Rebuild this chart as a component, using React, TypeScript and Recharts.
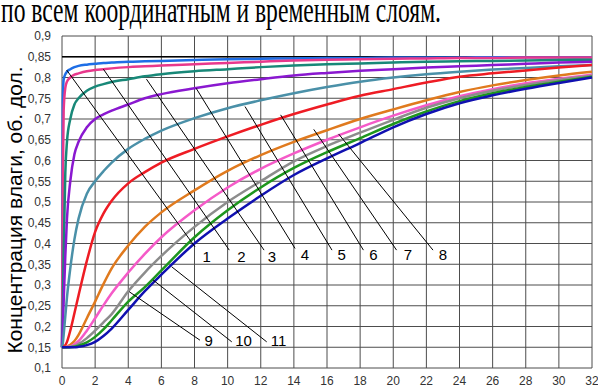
import React from 'react';
import { LineChart, Line, XAxis, YAxis, CartesianGrid, ReferenceLine, ReferenceDot } from 'recharts';

const XS = [0, 0.05, 0.1, 0.2, 0.3, 0.5, 0.75, 1, 1.5, 2, 2.5, 3, 4, 5, 6, 8, 10, 12, 14, 16, 18, 20, 22, 24, 26, 28, 30, 32];

const S1 = [0.15, 0.74, 0.795, 0.808, 0.814, 0.82, 0.825, 0.828, 0.831, 0.833, 0.835, 0.836, 0.838, 0.839, 0.84, 0.842, 0.844, 0.845, 0.846, 0.847, 0.847, 0.848, 0.848, 0.848, 0.849, 0.849, 0.849, 0.849];
const S2 = [0.15, 0.55, 0.72, 0.775, 0.79, 0.8, 0.807, 0.81, 0.815, 0.818, 0.82, 0.822, 0.825, 0.827, 0.829, 0.832, 0.835, 0.838, 0.841, 0.843, 0.844, 0.845, 0.846, 0.847, 0.847, 0.848, 0.848, 0.848];
const S3 = [0.15, 0.25, 0.38, 0.57, 0.645, 0.7, 0.735, 0.75, 0.768, 0.778, 0.784, 0.789, 0.796, 0.803, 0.808, 0.815, 0.82, 0.825, 0.829, 0.832, 0.834, 0.836, 0.838, 0.839, 0.84, 0.841, 0.842, 0.843];
const S4 = [0.15, 0.2, 0.26, 0.37, 0.46, 0.55, 0.615, 0.645, 0.68, 0.7, 0.711, 0.72, 0.735, 0.75, 0.76, 0.774, 0.786, 0.796, 0.805, 0.811, 0.816, 0.82, 0.824, 0.827, 0.83, 0.833, 0.836, 0.838];
const S5 = [0.15, 0.16, 0.18, 0.225, 0.27, 0.34, 0.41, 0.46, 0.52, 0.55, 0.574, 0.595, 0.628, 0.652, 0.672, 0.702, 0.726, 0.745, 0.762, 0.777, 0.79, 0.8, 0.808, 0.814, 0.819, 0.823, 0.827, 0.83];
const S6 = [0.15, 0.15, 0.151, 0.155, 0.163, 0.19, 0.232, 0.275, 0.358, 0.428, 0.472, 0.503, 0.545, 0.572, 0.595, 0.628, 0.658, 0.686, 0.712, 0.735, 0.756, 0.772, 0.788, 0.802, 0.81, 0.817, 0.824, 0.83];
const S7 = [0.15, 0.15, 0.15, 0.151, 0.152, 0.156, 0.165, 0.18, 0.22, 0.26, 0.302, 0.34, 0.395, 0.44, 0.475, 0.528, 0.575, 0.613, 0.645, 0.673, 0.7, 0.723, 0.745, 0.765, 0.781, 0.794, 0.805, 0.814];
const S8 = [0.15, 0.15, 0.15, 0.15, 0.151, 0.152, 0.157, 0.165, 0.19, 0.22, 0.251, 0.28, 0.33, 0.375, 0.415, 0.48, 0.535, 0.58, 0.617, 0.65, 0.68, 0.708, 0.733, 0.755, 0.772, 0.786, 0.797, 0.807];
const S9 = [0.15, 0.15, 0.15, 0.15, 0.15, 0.151, 0.153, 0.158, 0.172, 0.19, 0.21, 0.23, 0.285, 0.33, 0.37, 0.44, 0.5, 0.55, 0.598, 0.635, 0.667, 0.698, 0.727, 0.75, 0.768, 0.782, 0.794, 0.804];
const S10 = [0.15, 0.15, 0.15, 0.15, 0.15, 0.15, 0.151, 0.154, 0.162, 0.175, 0.193, 0.215, 0.26, 0.295, 0.335, 0.415, 0.48, 0.535, 0.582, 0.62, 0.654, 0.688, 0.718, 0.743, 0.762, 0.777, 0.79, 0.802];
const S11 = [0.15, 0.15, 0.15, 0.15, 0.15, 0.15, 0.15, 0.151, 0.155, 0.163, 0.177, 0.195, 0.24, 0.285, 0.325, 0.4, 0.46, 0.515, 0.565, 0.605, 0.642, 0.68, 0.712, 0.738, 0.757, 0.773, 0.787, 0.8];

const SERIES = [S1, S2, S3, S4, S5, S6, S7, S8, S9, S10, S11];
const COLORS = ['#1e6ee6', '#e8388c', '#188878', '#8a18d0', '#4a90a8', '#ee1c24', '#e07a1e', '#f55ac8', '#8c8c8c', '#1e961e', '#1010b0'];

const X_TICKS = [0, 2, 4, 6, 8, 10, 12, 14, 16, 18, 20, 22, 24, 26, 28, 30, 32];
const Y_TICKS = [0.1, 0.15, 0.2, 0.25, 0.3, 0.35, 0.4, 0.45, 0.5, 0.55, 0.6, 0.65, 0.7, 0.75, 0.8, 0.85, 0.9];

// leader lines: start (on curve) -> end (near label)
const LEADER_LABELS = ['1', '2', '3', '4', '5', '6', '7', '8', '9', '10', '11'];
const LEADER_START_X = [0.28, 2.5, 5.1, 8.1, 11.05, 13.2, 15.2, 16.7, 4.05, 5.5, 6.62];
const LEADER_START_Y = [0.818, 0.82, 0.796, 0.774, 0.73, 0.71, 0.675, 0.664, 0.284, 0.312, 0.344];
const LEADER_END_X = [8.03, 10.1, 12.2, 14.07, 16.3, 18.2, 20.2, 22.4, 8.33, 10.25, 12.36];
const LEADER_END_Y = [0.392, 0.384, 0.384, 0.388, 0.384, 0.384, 0.384, 0.384, 0.167, 0.163, 0.163];
const LABEL_X = [8.73, 10.84, 12.68, 14.67, 16.88, 18.81, 20.89, 23.0, 8.85, 10.96, 13.07];
const LABEL_Y = [0.368, 0.368, 0.368, 0.373, 0.373, 0.373, 0.373, 0.373, 0.166, 0.166, 0.166];

const TITLE = 'по всем координатным и временным слоям.';
const Y_LABEL = 'Концентрация влаги, об. дол.';

const data = XS.map((x, i) => {
  const row: Record<string, number> = { x };
  SERIES.forEach((s, k) => {
    row['s' + (k + 1)] = s[i];
  });
  return row;
});

const fmt = (v: number) => String(Math.round(v * 100) / 100).replace('.', ',');
const SANS = '"Liberation Sans", Arial, sans-serif';
const SERIF = "'Liberation Serif', Tinos, 'DejaVu Serif', 'Noto Serif', FreeSerif, 'Times New Roman', Times, serif";

export default function App() {
  return (
    <div style={{ position: 'absolute', left: 0, top: 0, width: 598, height: 389, overflow: 'hidden', background: '#fff' }}>
      <div style={{ position: 'absolute', left: 0, top: 0 }}>
        <LineChart width={598} height={389} data={data} margin={{ top: 36, right: 6, bottom: 0, left: 0 }}>
          <CartesianGrid stroke="#4d4d4d" strokeWidth={1} horizontalValues={Y_TICKS} verticalValues={X_TICKS} />
          <XAxis
            dataKey="x"
            type="number"
            domain={[0, 32]}
            ticks={X_TICKS}
            height={21}
            axisLine={false}
            tickLine={false}
            tickSize={0}
            tickMargin={8}
            interval={0}
            tick={{ fill: '#333', fontSize: 12, fontFamily: SANS }}
          />
          <YAxis
            type="number"
            domain={[0.1, 0.9]}
            ticks={Y_TICKS}
            width={62}
            axisLine={false}
            tickLine={false}
            tickSize={0}
            tickMargin={11}
            interval={0}
            tickFormatter={fmt}
            tick={{ fill: '#333', fontSize: 12, fontFamily: SANS }}
          />
          <ReferenceLine y={0.85} stroke="#000" strokeWidth={1.4} />
          {SERIES.map((_, k) => (
            <Line
              key={k}
              dataKey={'s' + (k + 1)}
              type="monotone"
              stroke={COLORS[k]}
              strokeWidth={2.5}
              dot={false}
              activeDot={false}
              isAnimationActive={false}
            />
          ))}
          {LEADER_LABELS.map((lab, k) => (
            <ReferenceLine
              key={'l' + k}
              segment={[
                { x: LEADER_START_X[k], y: LEADER_START_Y[k] },
                { x: LEADER_END_X[k], y: LEADER_END_Y[k] },
              ]}
              stroke="#000"
              strokeWidth={1}
              ifOverflow="visible"
            />
          ))}
          {LEADER_LABELS.map((lab, k) => (
            <ReferenceDot
              key={'d' + k}
              x={LABEL_X[k]}
              y={LABEL_Y[k]}
              r={1}
              fill="none"
              stroke="none"
              ifOverflow="visible"
              label={{ value: lab, position: 'center', fill: '#000', fontSize: 15, fontFamily: SANS }}
            />
          ))}
        </LineChart>
      </div>
      <svg style={{ position: 'absolute', left: 0, top: 0 }} width={598} height={389} pointerEvents="none">
        <text
          transform="translate(1,22) scale(1,1.45)"
          x={0}
          y={0}
          style={{ fontFamily: SERIF }}
          fontSize={25}
          textLength={440}
          lengthAdjust="spacingAndGlyphs"
          fill="#000"
        >
          {TITLE}
        </text>
        <text
          transform="translate(22,210) rotate(-90)"
          textAnchor="middle"
          fontFamily={SANS}
          fontSize={21}
          fill="#000"
        >
          {Y_LABEL}
        </text>
      </svg>
    </div>
  );
}
